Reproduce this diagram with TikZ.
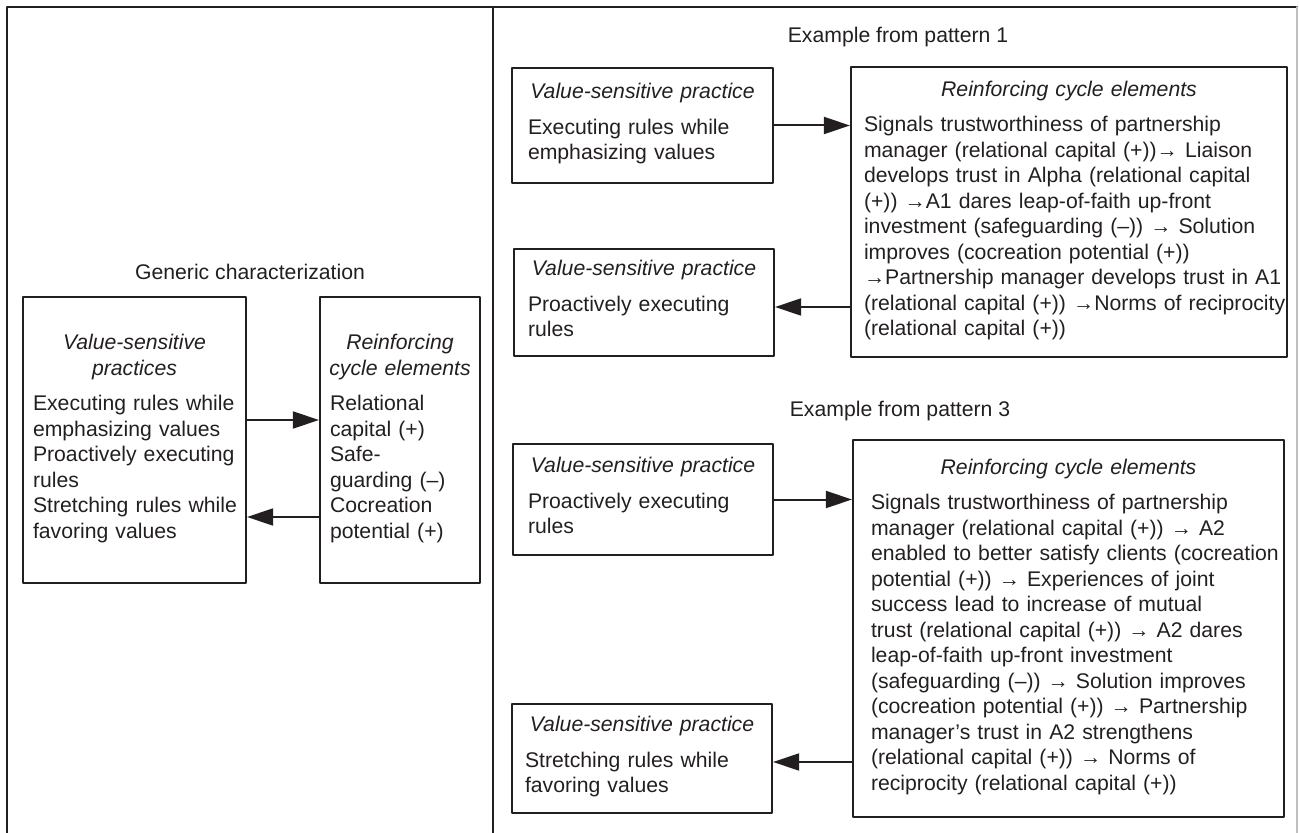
\documentclass[tikz,border=0pt]{standalone}
\usepackage{fontspec}
\setmainfont{Liberation Sans}
\usetikzlibrary{arrows.meta}
\definecolor{ink}{RGB}{35,31,32}
\newcommand{\cyclebox}[2]{{\centering\itshape #1\par}\vspace{5pt}\begin{tabular}[t]{@{}l@{}}#2\end{tabular}}

\begin{document}
\begin{tikzpicture}[line cap=round,line join=round,>={Triangle[length=13pt,width=8.5pt]},x=0.5pt,y=-0.5pt,
  font=\fontsize{10.6}{12.75}\selectfont,color=ink,
  cbox/.style={draw=ink,line width=1.1pt,inner ysep=0pt,align=left}]
\useasboundingbox (0,0) rectangle (1299,833);
% frame
\draw[line width=1.2pt] (7,833) -- (7,7) -- (1297,7);
\draw[gray!50,line width=0.8pt] (1297,7) -- (1297,833);
\draw[line width=1.2pt] (493,7) -- (493,833);
% generic characterization
\node (glabel) at (250,272) {Generic characterization};
\node[cbox,minimum width=111.5pt,minimum height=143pt,inner xsep=5pt,text width=101.5pt] (gvsp) at (134.5,440)
  {\cyclebox{Value-sensitive\\practices}{Executing rules while\\emphasizing values\\Proactively executing\\rules\\Stretching rules while\\favoring values}};
\node[cbox,minimum width=80pt,minimum height=143pt,inner xsep=2pt,text width=76pt] (grce) at (400,440)
  {\cyclebox{Reinforcing\\cycle elements}{\hspace{3pt}Relational\\\hspace{3pt}capital (+)\\\hspace{3pt}Safe-\\\hspace{3pt}guarding (–)\\\hspace{3pt}Cocreation\\\hspace{3pt}potential (+)}};
\draw[->,line width=1pt] (gvsp.east |- 0,420) -- (grce.west |- 0,420);
\draw[->,line width=1pt] (grce.west |- 0,517) -- (gvsp.east |- 0,517);
% example from pattern 1
\node (plabel1) at (898,37) {Example from pattern 1};
\node[cbox,minimum width=130.5pt,minimum height=57.5pt,inner xsep=8pt,text width=114.5pt] (a1) at (642.5,125.5)
  {\cyclebox{Value-sensitive practice}{Executing rules while\\emphasizing values}};
\node[cbox,minimum width=130pt,minimum height=53.5pt,inner xsep=7pt,text width=116pt] (a2) at (644,302.5)
  {\cyclebox{Value-sensitive practice}{Proactively executing\\rules}};
\node[cbox,minimum width=218pt,minimum height=145pt,inner xsep=6.5pt,text width=205pt] (r1) at (1069,212)
  {\cyclebox{Reinforcing cycle elements}{Signals trustworthiness of partnership\\
  manager (relational capital (+))→ Liaison\\
  develops trust in Alpha (relational capital\\
  (+)) →A1 dares leap-of-faith up-front\\
  investment (safeguarding (–)) → Solution\\
  improves (cocreation potential (+))\\
  →Partnership manager develops trust in A1\\
  (relational capital (+)) →Norms of reciprocity\\
  (relational capital (+))}};
\draw[->,line width=1pt] (a1.east) -- (a1.east -| r1.west);
\draw[->,line width=1pt] (r1.west |- 0,307) -- (a2.east |- 0,307);
% example from pattern 3
\node (plabel3) at (900,411) {Example from pattern 3};
\node[cbox,minimum width=130pt,minimum height=55.5pt,inner xsep=7.5pt,text width=115pt] (b1) at (643,499.5)
  {\cyclebox{Value-sensitive practice}{Proactively executing\\rules}};
\node[cbox,minimum width=130pt,minimum height=54.5pt,inner xsep=6.5pt,text width=117pt] (b2) at (642,758.5)
  {\cyclebox{Value-sensitive practice}{Stretching rules while\\favoring values}};
\node[cbox,minimum width=215.5pt,minimum height=188.5pt,inner xsep=9pt,text width=197.5pt] (r3) at (1068.5,628.5)
  {\cyclebox{Reinforcing cycle elements}{Signals trustworthiness of partnership\\
  manager (relational capital (+)) → A2\\
  enabled to better satisfy clients (cocreation\\
  potential (+)) → Experiences of joint\\
  success lead to increase of mutual\\
  trust (relational capital (+)) → A2 dares\\
  leap-of-faith up-front investment\\
  (safeguarding (–)) → Solution improves\\
  (cocreation potential (+)) → Partnership\\
  manager’s trust in A2 strengthens\\
  (relational capital (+)) → Norms of\\
  reciprocity (relational capital (+))}};
\draw[->,line width=1pt] (b1.east) -- (b1.east -| r3.west);
\draw[->,line width=1pt] (r3.west |- 0,762) -- (b2.east |- 0,762);
\end{tikzpicture}
\end{document}
